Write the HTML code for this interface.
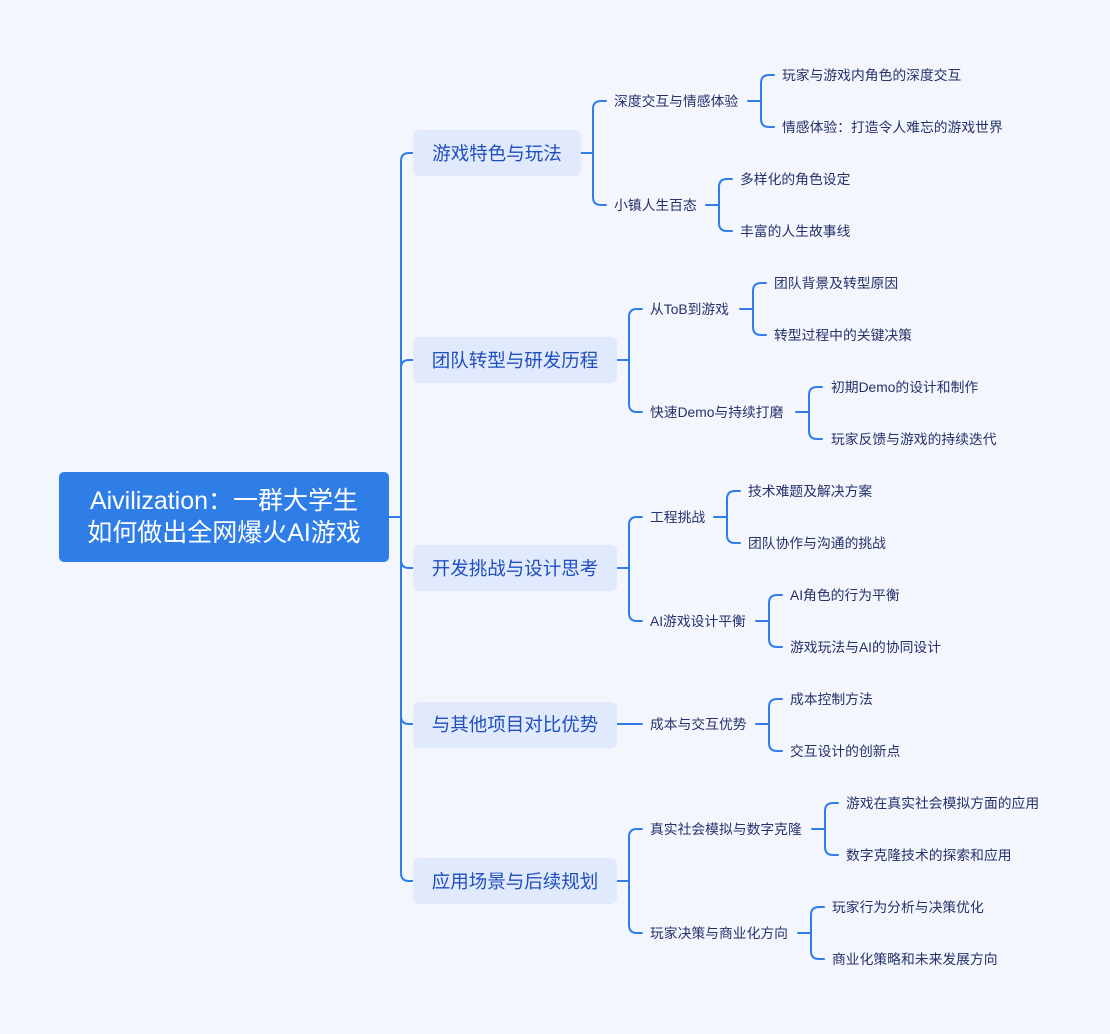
<!DOCTYPE html>
<html><head><meta charset="utf-8"><style>
html,body{margin:0;padding:0;background:#f4f6fe;}
svg{display:block}
text{font-family:"Liberation Sans","Noto Sans CJK SC",sans-serif;}
.l2{font-size:13.8px;fill:#25316a}
.l1{font-size:18.5px;fill:#1f4fbf}
.ln{fill:none;stroke:#2f7ee8;stroke-width:2;stroke-linecap:round}
</style></head><body>
<svg width="1110" height="1034" viewBox="0 0 1110 1034" xmlns="http://www.w3.org/2000/svg">
<rect width="1110" height="1034" fill="#f4f6fe"/>
<g class="ln">
<path d="M389 517 H401"/>
<path d="M401 517 V161 Q401 153 409 153 H414"/>
<path d="M401 517 V368 Q401 360 409 360 H414"/>
<path d="M401 517 V560 Q401 568 409 568 H414"/>
<path d="M401 517 V716 Q401 724 409 724 H414"/>
<path d="M401 517 V873 Q401 881 409 881 H414"/>
<path d="M580 153 H593"/>
<path d="M593 153 V109 Q593 101 601 101 H606"/>
<path d="M593 153 V197 Q593 205 601 205 H606"/>
<path d="M748 101 H761"/>
<path d="M761 101 V83 Q761 75 769 75 H774"/>
<path d="M761 101 V119 Q761 127 769 127 H774"/>
<path d="M706 205 H719"/>
<path d="M719 205 V187 Q719 179 727 179 H732"/>
<path d="M719 205 V223 Q719 231 727 231 H732"/>
<path d="M616 360 H629"/>
<path d="M629 360 V317 Q629 309 637 309 H642"/>
<path d="M629 360 V404 Q629 412 637 412 H642"/>
<path d="M740 309 H753"/>
<path d="M753 309 V291 Q753 283 761 283 H766"/>
<path d="M753 309 V327 Q753 335 761 335 H766"/>
<path d="M796 412 H809"/>
<path d="M809 412 V395 Q809 387 817 387 H822"/>
<path d="M809 412 V431 Q809 439 817 439 H822"/>
<path d="M616 568 H629"/>
<path d="M629 568 V525 Q629 517 637 517 H642"/>
<path d="M629 568 V613 Q629 621 637 621 H642"/>
<path d="M714 517 H727"/>
<path d="M727 517 V499 Q727 491 735 491 H740"/>
<path d="M727 517 V535 Q727 543 735 543 H740"/>
<path d="M756 621 H769"/>
<path d="M769 621 V603 Q769 595 777 595 H782"/>
<path d="M769 621 V639 Q769 647 777 647 H782"/>
<path d="M616 724 H642"/>
<path d="M756 724 H769"/>
<path d="M769 724 V707 Q769 699 777 699 H782"/>
<path d="M769 724 V743 Q769 751 777 751 H782"/>
<path d="M616 881 H629"/>
<path d="M629 881 V837 Q629 829 637 829 H642"/>
<path d="M629 881 V925 Q629 933 637 933 H642"/>
<path d="M812 829 H825"/>
<path d="M825 829 V811 Q825 803 833 803 H838"/>
<path d="M825 829 V847 Q825 855 833 855 H838"/>
<path d="M798 933 H811"/>
<path d="M811 933 V915 Q811 907 819 907 H824"/>
<path d="M811 933 V951 Q811 959 819 959 H824"/>
</g>
<rect x="59" y="472" width="330" height="90" rx="5" fill="#2f7ee8"/>
<text x="224" y="509" text-anchor="middle" font-size="25" fill="#fff">Aivilization：一群大学生</text>
<text x="224" y="541" text-anchor="middle" font-size="25" fill="#fff">如何做出全网爆火AI游戏</text>
<rect x="413" y="130" width="168" height="46" rx="6" fill="#e1e9fd"/>
<text class="l1" x="497" y="160" text-anchor="middle">游戏特色与玩法</text>
<rect x="413" y="337" width="204" height="46" rx="6" fill="#e1e9fd"/>
<text class="l1" x="515" y="367" text-anchor="middle">团队转型与研发历程</text>
<rect x="413" y="545" width="204" height="46" rx="6" fill="#e1e9fd"/>
<text class="l1" x="515" y="575" text-anchor="middle">开发挑战与设计思考</text>
<rect x="413" y="702" width="204" height="46" rx="6" fill="#e1e9fd"/>
<text class="l1" x="515" y="731" text-anchor="middle">与其他项目对比优势</text>
<rect x="413" y="858" width="204" height="46" rx="6" fill="#e1e9fd"/>
<text class="l1" x="515" y="888" text-anchor="middle">应用场景与后续规划</text>
<g class="l2">
<text x="614" y="106">深度交互与情感体验</text>
<text x="782" y="80">玩家与游戏内角色的深度交互</text>
<text x="782" y="132">情感体验：打造令人难忘的游戏世界</text>
<text x="614" y="210">小镇人生百态</text>
<text x="740" y="184">多样化的角色设定</text>
<text x="740" y="236">丰富的人生故事线</text>
<text x="650" y="314">从ToB到游戏</text>
<text x="774" y="288">团队背景及转型原因</text>
<text x="774" y="340">转型过程中的关键决策</text>
<text x="650" y="417">快速Demo与持续打磨</text>
<text x="831" y="392">初期Demo的设计和制作</text>
<text x="831" y="444">玩家反馈与游戏的持续迭代</text>
<text x="650" y="522">工程挑战</text>
<text x="748" y="496">技术难题及解决方案</text>
<text x="748" y="548">团队协作与沟通的挑战</text>
<text x="650" y="626">AI游戏设计平衡</text>
<text x="790" y="600">AI角色的行为平衡</text>
<text x="790" y="652">游戏玩法与AI的协同设计</text>
<text x="650" y="729">成本与交互优势</text>
<text x="790" y="704">成本控制方法</text>
<text x="790" y="756">交互设计的创新点</text>
<text x="650" y="834">真实社会模拟与数字克隆</text>
<text x="846" y="808">游戏在真实社会模拟方面的应用</text>
<text x="846" y="860">数字克隆技术的探索和应用</text>
<text x="650" y="938">玩家决策与商业化方向</text>
<text x="832" y="912">玩家行为分析与决策优化</text>
<text x="832" y="964">商业化策略和未来发展方向</text>
</g>
</svg>
</body></html>
